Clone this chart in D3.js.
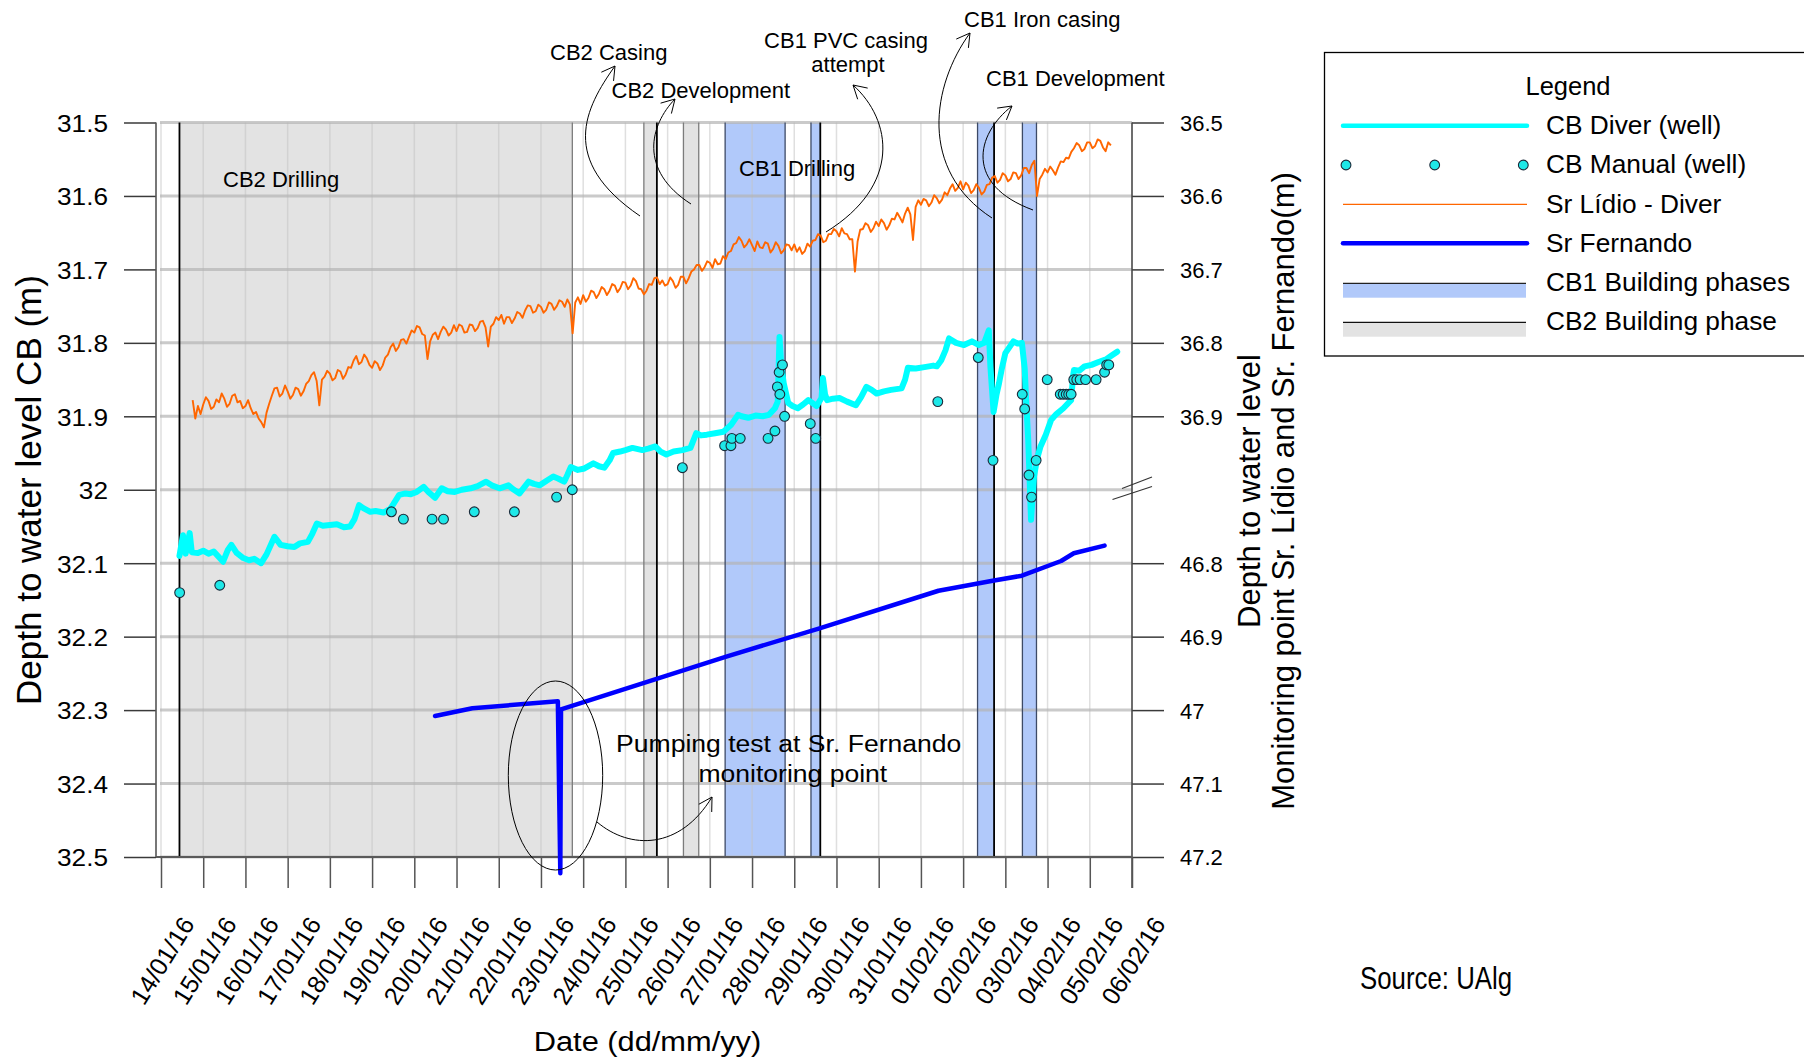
<!DOCTYPE html>
<html>
<head>
<meta charset="utf-8">
<script src="https://cdn.jsdelivr.net/npm/d3@7"></script>
<style>
  html, body { margin: 0; padding: 0; background: #fff; }
  svg { display: block; font-family: "Liberation Sans", Arial, Helvetica, sans-serif; }
</style>
</head>
<body>
<svg id="chart" width="1804" height="1058"></svg>
<script>
// ---------------------------------------------------------------------------
// Data
// ---------------------------------------------------------------------------

// Axis ticks
const cbTickValues = [31.5, 31.6, 31.7, 31.8, 31.9, 32.0, 32.1, 32.2, 32.3, 32.4, 32.5];
const cbTickLabels = ["31.5", "31.6", "31.7", "31.8", "31.9", "32", "32.1", "32.2", "32.3", "32.4", "32.5"];
const lidioTickValues = [36.5, 36.6, 36.7, 36.8, 36.9];
const lidioTickLabels = ["36.5", "36.6", "36.7", "36.8", "36.9"];
const fernTickValues = [46.8, 46.9, 47.0, 47.1, 47.2];
const fernTickLabels = ["46.8", "46.9", "47", "47.1", "47.2"];

// Building phases (UTC)
const cb2PhaseNames = ["CB2 Drilling", "CB2 Casing", "CB2 Development"];
const cb2PhaseStart = ["2016-01-14T10:30Z", "2016-01-25T10:30Z", "2016-01-26T09:00Z"];
const cb2PhaseEnd   = ["2016-01-23T17:50Z", "2016-01-25T17:54Z", "2016-01-26T17:42Z"];
const cb1PhaseNames = ["CB1 Drilling", "CB1 PVC casing attempt", "CB1 Iron casing", "CB1 Development"];
const cb1PhaseStart = ["2016-01-27T08:42Z", "2016-01-29T09:30Z", "2016-02-02T08:12Z", "2016-02-03T09:42Z"];
const cb1PhaseEnd   = ["2016-01-28T18:48Z", "2016-01-29T14:48Z", "2016-02-02T17:36Z", "2016-02-03T17:42Z"];

// Sr Lídio diver: depth (m), logged every 1.5 h from 14/01/16 18:00
const lidioStart = "2016-01-14T18:00Z";
const lidioStepHours = 1.5;
const lidioDepth = [
  36.878, 36.903, 36.886, 36.897,
  36.884, 36.874, 36.879, 36.890, 36.887, 36.877, 36.881, 36.869, 36.876, 36.887, 36.883, 36.872, 36.870, 36.881, 36.879, 36.889,
  36.886, 36.878, 36.889, 36.897, 36.894, 36.903, 36.908, 36.915, 36.895, 36.883, 36.872, 36.862, 36.861, 36.873, 36.869, 36.858,
  36.866, 36.876, 36.871, 36.861, 36.863, 36.872, 36.866, 36.856, 36.852, 36.844, 36.840, 36.852, 36.885, 36.850, 36.846, 36.838,
  36.842, 36.851, 36.848, 36.837, 36.839, 36.849, 36.843, 36.833, 36.834, 36.824, 36.818, 36.829, 36.826, 36.816, 36.821, 36.830,
  36.834, 36.825, 36.828, 36.837, 36.831, 36.820, 36.816, 36.806, 36.801, 36.811, 36.806, 36.796, 36.795, 36.801, 36.792, 36.783,
  36.786, 36.777, 36.779, 36.788, 36.790, 36.822, 36.798, 36.789, 36.786, 36.795, 36.785, 36.778, 36.782, 36.790, 36.786, 36.776,
  36.784, 36.775, 36.777, 36.786, 36.785, 36.775, 36.776, 36.784, 36.780, 36.771, 36.770, 36.779, 36.805, 36.778, 36.774, 36.765,
  36.769, 36.762, 36.774, 36.765, 36.765, 36.773, 36.767, 36.758, 36.760, 36.766, 36.756, 36.749, 36.750, 36.759, 36.757, 36.748,
  36.751, 36.759, 36.755, 36.745, 36.747, 36.755, 36.750, 36.742, 36.744, 36.751, 36.741, 36.748, 36.787, 36.745, 36.738, 36.747,
  36.735, 36.744, 36.739, 36.729, 36.731, 36.739, 36.733, 36.724, 36.727, 36.735, 36.729, 36.720, 36.722, 36.731, 36.726, 36.717,
  36.718, 36.727, 36.722, 36.712, 36.716, 36.726, 36.727, 36.734, 36.729, 36.720, 36.721, 36.712, 36.711, 36.720, 36.715, 36.722,
  36.720, 36.711, 36.716, 36.725, 36.721, 36.710, 36.710, 36.719, 36.712, 36.703, 36.700, 36.694, 36.694, 36.702, 36.697, 36.689,
  36.691, 36.698, 36.686, 36.693, 36.692, 36.682, 36.686, 36.677, 36.675, 36.666, 36.664, 36.656, 36.661, 36.670, 36.666, 36.659,
  36.667, 36.675, 36.662, 36.670, 36.671, 36.663, 36.665, 36.677, 36.672, 36.663, 36.668, 36.678, 36.674, 36.666, 36.667, 36.674,
  36.666, 36.676, 36.670, 36.679, 36.675, 36.665, 36.669, 36.661, 36.660, 36.652, 36.654, 36.663, 36.661, 36.652, 36.652, 36.645,
  36.648, 36.655, 36.644, 36.651, 36.652, 36.659, 36.659, 36.703, 36.662, 36.646, 36.645, 36.637, 36.640, 36.649, 36.644, 36.635,
  36.641, 36.632, 36.637, 36.646, 36.640, 36.631, 36.632, 36.623, 36.629, 36.636, 36.624, 36.616, 36.625, 36.660, 36.615, 36.606,
  36.612, 36.604, 36.606, 36.614, 36.609, 36.599, 36.603, 36.610, 36.605, 36.595, 36.599, 36.590, 36.584, 36.593, 36.589, 36.580,
  36.591, 36.582, 36.586, 36.596, 36.592, 36.584, 36.589, 36.598, 36.594, 36.585, 36.584, 36.575, 36.573, 36.582, 36.578, 36.569,
  36.572, 36.580, 36.577, 36.568, 36.569, 36.577, 36.572, 36.562, 36.562, 36.569, 36.558, 36.552, 36.600, 36.577, 36.571, 36.563,
  36.568, 36.560, 36.565, 36.571, 36.561, 36.553, 36.554, 36.548, 36.549, 36.540, 36.535, 36.528, 36.531, 36.539, 36.536, 36.527,
  36.527, 36.535, 36.532, 36.523, 36.525, 36.534, 36.539, 36.527, 36.531
];

// CB diver (well): hours after 14/01/16 00:00 and depth (m)
const cbDiverHours = [
  10.5, 12.5, 14, 16.3, 17.5, 21, 24, 27, 30, 33, 35.3, 38, 40, 43, 46.8, 50, 53, 56.9, 60, 64.5,
  68, 72, 75.8, 79, 83.5, 86, 88.6, 92, 96, 100, 104, 107.5, 110, 112.6, 115, 119, 122, 126.5, 130.3, 132,
  135.4, 139, 142, 145.4, 149.3, 152, 155.8, 159.6, 163, 167, 171, 176, 180, 184.8, 188, 192.5, 197.5, 200, 203.8, 209,
  212, 215.3, 219, 223, 226, 229.2, 231, 233, 237, 240.7, 245.8, 249, 252, 255, 257, 261, 264, 268, 273.6, 277,
  281, 284, 287.3, 291.4, 296.4, 301, 304.3, 307, 310.3, 315, 319.7, 324, 328, 330, 333.8, 338, 342, 345.6, 349, 350.6,
  351.6, 352.6, 354, 356.6, 359, 362, 365, 368, 372.7, 375.5, 376.3, 377.5, 378.7, 382, 385.7, 390, 395, 398, 401, 404,
  406.8, 411, 415, 421, 423, 424.6, 429, 434, 439, 441, 443.5, 446, 448, 452, 456.5, 461, 465, 468, 470.6, 471.5,
  473.3, 475, 476.4, 478, 480, 484.6, 487, 489.4, 491, 491.8, 493, 494.6, 496.3, 498, 500, 503, 506, 509, 513, 517.4,
  518.5, 519, 522, 525, 529, 533, 537.6, 540, 543.6
];
const cbDiverDepth = [
  32.090, 32.062, 32.087, 32.059, 32.085, 32.086, 32.083, 32.087, 32.084, 32.092, 32.098, 32.082, 32.075, 32.086, 32.093, 32.096, 32.094, 32.100, 32.088, 32.064,
  32.075, 32.077, 32.078, 32.073, 32.071, 32.060, 32.046, 32.049, 32.048, 32.047, 32.051, 32.050, 32.040, 32.021, 32.025, 32.030, 32.029, 32.031, 32.026, 32.020,
  32.007, 32.005, 32.006, 32.003, 31.996, 32.003, 32.011, 31.998, 32.002, 32.003, 32.000, 31.998, 31.995, 31.989, 31.994, 31.998, 31.994, 31.999, 32.005, 31.989,
  31.992, 31.994, 31.988, 31.982, 31.985, 31.989, 31.980, 31.969, 31.973, 31.971, 31.964, 31.968, 31.970, 31.960, 31.950, 31.948, 31.946, 31.943, 31.946, 31.944,
  31.941, 31.948, 31.952, 31.948, 31.946, 31.943, 31.923, 31.926, 31.925, 31.923, 31.921, 31.912, 31.898, 31.900, 31.902, 31.899, 31.900, 31.898, 31.889, 31.880,
  31.792, 31.830, 31.855, 31.882, 31.886, 31.889, 31.884, 31.878, 31.886, 31.875, 31.848, 31.870, 31.878, 31.876, 31.875, 31.880, 31.885, 31.874, 31.860, 31.864,
  31.869, 31.866, 31.864, 31.862, 31.850, 31.834, 31.835, 31.833, 31.831, 31.832, 31.824, 31.810, 31.794, 31.800, 31.803, 31.798, 31.803, 31.800, 31.783, 31.832,
  31.894, 31.870, 31.855, 31.835, 31.814, 31.798, 31.801, 31.800, 31.835, 31.878, 31.932, 32.041, 31.982, 31.958, 31.941, 31.925, 31.905, 31.897, 31.889, 31.878,
  31.845, 31.837, 31.838, 31.832, 31.830, 31.826, 31.822, 31.818, 31.812
];

// CB manual readings (well): hours after 14/01/16 00:00 and depth (m)
const cbManualHours = [
  10.6, 33.4, 131, 137.8, 154.1, 160.6, 178.1, 200.9, 224.9, 233.8,
  296.4, 320.4, 324, 324.5, 329.3, 345.1, 349, 350.4, 351.8, 351.4, 353.3, 354.5,
  369.1, 372.2, 441.6, 464.6, 473, 489.6, 491, 493.4, 494.9, 497.5, 503.8,
  511.2, 512.9, 514.6, 516, 517.4, 518.9, 520.6, 522.5, 525.6, 531.6, 536.4, 537.6, 538.8
];
const cbManualDepth = [
  32.14, 32.13, 32.03, 32.04, 32.04, 32.04, 32.03, 32.03, 32.01, 32.00,
  31.97, 31.94, 31.94, 31.93, 31.93, 31.93, 31.92, 31.86, 31.87, 31.84, 31.83, 31.90,
  31.91, 31.93, 31.88, 31.82, 31.96, 31.87, 31.89, 31.98, 32.01, 31.96, 31.85,
  31.87, 31.87, 31.87, 31.87, 31.87, 31.85, 31.85, 31.85, 31.85, 31.85, 31.84, 31.83, 31.83
];

// Sr Fernando monitoring point: hours after 14/01/16 00:00 and depth (m)
const fernHours = [155.8, 177, 225.6, 227.0, 227.4, 320.9, 373.9, 442, 472.8, 489.4, 511.7, 518.9, 536.4];
const fernDepth = [47.008, 46.9975, 46.988, 47.222, 46.999, 46.9275, 46.889, 46.8375, 46.824, 46.817, 46.797, 46.7865, 46.776];

// ---------------------------------------------------------------------------
// Scales
// ---------------------------------------------------------------------------
const T0 = Date.UTC(2016, 0, 14);
const atHour = h => new Date(T0 + h * 3600e3);

const x = d3.scaleUtc()
  .domain([new Date(T0), new Date(Date.UTC(2016, 1, 6))])
  .range([161, 1132]);
const yCB = d3.scaleLinear().domain([31.5, 32.5]).range([122.5, 857]);
const yLidio = d3.scaleLinear().domain([36.5, 37.5]).range([122.5, 857]);
const yFern = d3.scaleLinear().domain([46.8, 47.2]).range([563.2, 857]);

const plotTop = yCB(31.5), plotBottom = yCB(32.5);
const plotLeft = 156, plotRight = x(new Date(Date.UTC(2016, 1, 6)));
const dayTicks = d3.utcDay.range(new Date(T0), new Date(Date.UTC(2016, 1, 7)));

const FONT = '"Liberation Sans", Arial, Helvetica, sans-serif';
const svg = d3.select("#chart");
svg.append("rect").attr("width", 1804).attr("height", 1058).attr("fill", "#fff");

// ---------------------------------------------------------------------------
// Building-phase bands
// ---------------------------------------------------------------------------
const bandG = svg.append("g");
const cb2Bands = cb2PhaseNames.map((n, i) => ({ name: n, x0: x(new Date(cb2PhaseStart[i])), x1: x(new Date(cb2PhaseEnd[i])) }));
const cb1Bands = cb1PhaseNames.map((n, i) => ({ name: n, x0: x(new Date(cb1PhaseStart[i])), x1: x(new Date(cb1PhaseEnd[i])) }));

bandG.selectAll("rect.cb2").data(cb2Bands).join("rect")
  .attr("x", d => d.x0).attr("width", d => d.x1 - d.x0)
  .attr("y", plotTop).attr("height", plotBottom - plotTop)
  .attr("fill", "#e3e3e3");
bandG.selectAll("rect.cb1").data(cb1Bands).join("rect")
  .attr("x", d => d.x0).attr("width", d => d.x1 - d.x0)
  .attr("y", plotTop).attr("height", plotBottom - plotTop)
  .attr("fill", "#b1c9fa");

// ---------------------------------------------------------------------------
// Grid
// ---------------------------------------------------------------------------
const gridG = svg.append("g");
gridG.selectAll("line.v").data(dayTicks).join("line")
  .attr("x1", d => x(d)).attr("x2", d => x(d))
  .attr("y1", plotTop).attr("y2", plotBottom)
  .attr("stroke", "#c4c4c4").attr("stroke-opacity", 0.55).attr("stroke-width", 1.5);
gridG.selectAll("line.h").data(cbTickValues).join("line")
  .attr("x1", 160).attr("x2", plotRight)
  .attr("y1", d => yCB(d)).attr("y2", d => yCB(d))
  .attr("stroke", "#b4b4b4").attr("stroke-opacity", 0.7).attr("stroke-width", 3);

// Band edges; the event that closes or opens a phase is drawn in black
const strongEdge = { "CB2 Drilling": "left", "CB2 Casing": "right", "CB1 PVC casing attempt": "right", "CB1 Iron casing": "right" };
function drawEdges(bands, softColor) {
  bands.forEach(b => {
    ["left", "right"].forEach(side => {
      const xx = side === "left" ? b.x0 : b.x1;
      const strong = strongEdge[b.name] === side;
      svg.append("line")
        .attr("x1", xx).attr("x2", xx).attr("y1", plotTop).attr("y2", plotBottom)
        .attr("stroke", strong ? "#000" : softColor)
        .attr("stroke-width", strong ? 1.8 : 1.3);
    });
  });
}
drawEdges(cb2Bands, "#7c7c7c");
drawEdges(cb1Bands, "#3d4a66");

// ---------------------------------------------------------------------------
// Axes
// ---------------------------------------------------------------------------
const axisStroke = "#3a3a3a";

const leftAxis = svg.append("g").attr("transform", `translate(${plotLeft},0)`)
  .call(d3.axisLeft(yCB).tickValues(cbTickValues).tickFormat((d, i) => cbTickLabels[i])
    .tickSize(32).tickPadding(16).tickSizeOuter(0));
leftAxis.select(".domain").remove();
leftAxis.selectAll("line").attr("stroke", axisStroke).attr("stroke-width", 1.5);
leftAxis.selectAll("text")
  .attr("font-family", FONT).attr("font-size", 24.5).attr("fill", "#000")
  .attr("x", null).attr("dy", "0.36em")
  .attr("transform", "translate(-48,0) scale(1.07,1)");
svg.append("line").attr("x1", plotLeft).attr("x2", plotLeft).attr("y1", plotTop).attr("y2", plotBottom)
  .attr("stroke", "#555").attr("stroke-width", 1.6);

function rightAxis(scale, values, labels) {
  const g = svg.append("g").attr("transform", `translate(${plotRight},0)`)
    .call(d3.axisRight(scale).tickValues(values).tickFormat((d, i) => labels[i])
      .tickSize(32).tickPadding(16).tickSizeOuter(0));
  g.select(".domain").remove();
  g.selectAll("line").attr("stroke", axisStroke).attr("stroke-width", 1.5);
  g.selectAll("text").attr("font-family", FONT).attr("font-size", 22).attr("fill", "#000").attr("dy", "0.36em");
}
rightAxis(yLidio, lidioTickValues, lidioTickLabels);
rightAxis(yFern, fernTickValues, fernTickLabels);
svg.append("line").attr("x1", plotRight).attr("x2", plotRight).attr("y1", plotTop).attr("y2", plotBottom + 31)
  .attr("stroke", "#444").attr("stroke-width", 1.5);

// axis break marks between the two right-hand scales
[[1112.5, 499.5, 1152, 486.5], [1122, 488.5, 1152, 477]].forEach(([a, b, c, d]) =>
  svg.append("line").attr("x1", a).attr("y1", b).attr("x2", c).attr("y2", d)
    .attr("stroke", "#333").attr("stroke-width", 1.1));

const bottomAxis = svg.append("g").attr("transform", `translate(0,${plotBottom})`)
  .call(d3.axisBottom(x).tickValues(dayTicks).tickFormat(d3.utcFormat("%d/%m/%y"))
    .tickSize(31).tickSizeOuter(0));
bottomAxis.select(".domain").remove();
bottomAxis.selectAll("line").attr("stroke", "#555").attr("stroke-width", 1.5);
bottomAxis.selectAll("text")
  .attr("font-family", FONT).attr("font-size", 25).attr("fill", "#000")
  .attr("x", 0).attr("y", 0).attr("dy", 0)
  .attr("text-anchor", "end")
  .attr("transform", "translate(34,67) rotate(-58)");
svg.append("line").attr("x1", plotLeft).attr("x2", plotRight).attr("y1", plotBottom).attr("y2", plotBottom)
  .attr("stroke", "#5a5a5a").attr("stroke-width", 2);

// ---------------------------------------------------------------------------
// Series
// ---------------------------------------------------------------------------
const lidioT0 = Date.parse(lidioStart);
const lidioPts = lidioDepth.map((v, i) => [new Date(lidioT0 + i * lidioStepHours * 3600e3), v]);
svg.append("path").datum(lidioPts)
  .attr("d", d3.line().x(d => x(d[0])).y(d => yLidio(d[1])))
  .attr("fill", "none").attr("stroke", "#ff6600").attr("stroke-width", 1.9).attr("stroke-linejoin", "round");

const diverPts = cbDiverHours.map((h, i) => [atHour(h), cbDiverDepth[i]]);
svg.append("path").datum(diverPts)
  .attr("d", d3.line().x(d => x(d[0])).y(d => yCB(d[1])))
  .attr("fill", "none").attr("stroke", "#00ffff").attr("stroke-width", 6)
  .attr("stroke-linejoin", "round").attr("stroke-linecap", "round");

svg.append("g").selectAll("circle").data(cbManualHours.map((h, i) => [atHour(h), cbManualDepth[i]])).join("circle")
  .attr("cx", d => x(d[0])).attr("cy", d => yCB(d[1])).attr("r", 4.9)
  .attr("fill", "#1ee8e8").attr("stroke", "#1a2a3a").attr("stroke-width", 1.1);

const fernPts = fernHours.map((h, i) => [atHour(h), fernDepth[i]]);
svg.append("path").datum(fernPts)
  .attr("d", d3.line().x(d => x(d[0])).y(d => yFern(d[1])))
  .attr("fill", "none").attr("stroke", "#0000ff").attr("stroke-width", 4.5)
  .attr("stroke-linejoin", "round").attr("stroke-linecap", "round");

// ---------------------------------------------------------------------------
// Annotations
// ---------------------------------------------------------------------------
const annG = svg.append("g").attr("font-family", FONT).attr("fill", "#000");
function label(txt, xx, yy, size, anchor = "start", sx = 1) {
  annG.append("text").text(txt)
    .attr("transform", `translate(${xx},${yy}) scale(${sx},1)`)
    .attr("font-size", size).attr("text-anchor", anchor);
}
function arrowHead(tip, dir, len = 15, half = 30 * Math.PI / 180) {
  const a = Math.atan2(dir[1], dir[0]) + Math.PI;
  [-1, 1].forEach(s => {
    annG.append("line")
      .attr("x1", tip[0]).attr("y1", tip[1])
      .attr("x2", tip[0] + len * Math.cos(a + s * half)).attr("y2", tip[1] + len * Math.sin(a + s * half))
      .attr("stroke", "#000").attr("stroke-width", 1);
  });
}
function curvedArrow(p0, p1, p2, p3) {
  annG.append("path")
    .attr("d", `M${p0}C${p1} ${p2} ${p3}`)
    .attr("fill", "none").attr("stroke", "#000").attr("stroke-width", 1);
  arrowHead(p3, [p3[0] - p2[0], p3[1] - p2[1]]);
}

label("CB2 Drilling", 223, 186.5, 22);
label("CB1 Drilling", 739, 175.5, 22);
label("CB2 Casing", 550, 60.3, 22);
label("CB2 Development", 611.5, 97.5, 22);
label("CB1 PVC casing", 846, 47.5, 22, "middle");
label("attempt", 848, 71.5, 22, "middle");
label("CB1 Iron casing", 964, 26.7, 22);
label("CB1 Development", 986, 86, 22);

curvedArrow([640, 216], [558, 160], [585, 108], [615, 66]);
curvedArrow([691, 204], [638, 170], [650, 125], [675, 99]);
curvedArrow([826, 232], [902, 185], [892, 120], [853, 85]);
curvedArrow([992, 218], [918, 170], [932, 85], [970, 33]);
curvedArrow([1033, 210], [965, 185], [975, 135], [1012, 106]);

// pumping test note
annG.append("ellipse").attr("cx", 555.5).attr("cy", 775.5).attr("rx", 47.2).attr("ry", 94.5)
  .attr("fill", "none").attr("stroke", "#000").attr("stroke-width", 1);
label("Pumping test at Sr. Fernando", 788.7, 751.7, 23.5, "middle", 1.13);
label("monitoring point", 792.8, 781.7, 23.5, "middle", 1.13);
curvedArrow([597, 822], [630, 850], [680, 850], [712, 797]);

// axis titles
annG.append("text").text("Depth to water level CB (m)")
  .attr("transform", "translate(41,490) rotate(-90)")
  .attr("text-anchor", "middle").attr("font-size", 35);
annG.append("text").text("Depth to water level")
  .attr("transform", "translate(1260,491) rotate(-90)")
  .attr("text-anchor", "middle").attr("font-size", 31);
annG.append("text").text("Monitoring point Sr. Lídio and Sr. Fernando(m)")
  .attr("transform", "translate(1294,491) rotate(-90)")
  .attr("text-anchor", "middle").attr("font-size", 31);
label("Date (dd/mm/yy)", 647.5, 1050.5, 28, "middle", 1.1);
label("Source: UAlg", 1360, 988.5, 31.5, "start", 0.82);

// ---------------------------------------------------------------------------
// Legend
// ---------------------------------------------------------------------------
const legG = svg.append("g").attr("font-family", FONT);
legG.append("rect").attr("x", 1324.5).attr("y", 52.5).attr("width", 520).attr("height", 303.5)
  .attr("fill", "#fff").attr("stroke", "#000").attr("stroke-width", 1.3);
legG.append("text").text("Legend").attr("x", 1568).attr("y", 95)
  .attr("text-anchor", "middle").attr("font-size", 25.5);

const legendNames = ["CB Diver (well)", "CB Manual (well)", "Sr Lídio - Diver", "Sr Fernando", "CB1 Building phases", "CB2 Building phase"];
const rowY = [134.3, 173.3, 212.7, 251.7, 291, 330];
const sx0 = 1343, sx1 = 1527;
legendNames.forEach((n, i) => {
  legG.append("text").text(n).attr("x", 1546).attr("y", rowY[i]).attr("font-size", 26.3);
});
legG.append("line").attr("x1", sx0).attr("x2", sx1).attr("y1", 125.7).attr("y2", 125.7)
  .attr("stroke", "#00ffff").attr("stroke-width", 4.5).attr("stroke-linecap", "round");
[1346, 1434.7, 1523.3].forEach(cx =>
  legG.append("circle").attr("cx", cx).attr("cy", 165).attr("r", 4.9)
    .attr("fill", "#1ee8e8").attr("stroke", "#1a2a3a").attr("stroke-width", 1.1));
legG.append("line").attr("x1", sx0).attr("x2", sx1).attr("y1", 204.3).attr("y2", 204.3)
  .attr("stroke", "#ff6600").attr("stroke-width", 1.3);
legG.append("line").attr("x1", sx0).attr("x2", sx1).attr("y1", 243.3).attr("y2", 243.3)
  .attr("stroke", "#0000ff").attr("stroke-width", 4.5).attr("stroke-linecap", "round");
legG.append("rect").attr("x", sx0).attr("y", 283.3).attr("width", sx1 - sx0 - 1).attr("height", 14.4).attr("fill", "#b1c9fa");
legG.append("line").attr("x1", sx0).attr("x2", sx1 - 1).attr("y1", 283.3).attr("y2", 283.3).attr("stroke", "#222").attr("stroke-width", 1.2);
legG.append("rect").attr("x", sx0).attr("y", 322.3).attr("width", sx1 - sx0 - 1).attr("height", 14.4).attr("fill", "#e3e3e3");
legG.append("line").attr("x1", sx0).attr("x2", sx1 - 1).attr("y1", 322.3).attr("y2", 322.3).attr("stroke", "#111").attr("stroke-width", 1.2);
</script>
</body>
</html>
